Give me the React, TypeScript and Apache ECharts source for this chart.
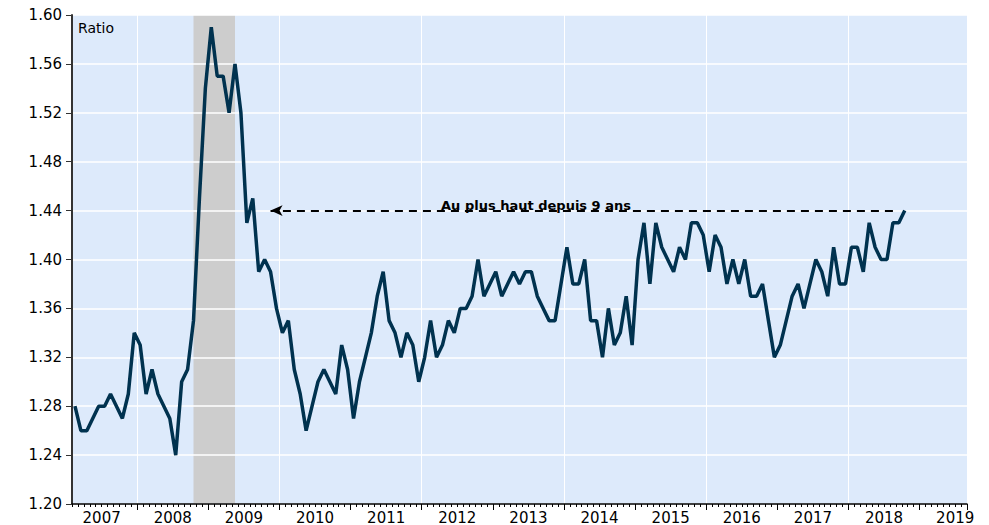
import React, { useEffect, useRef } from "react";
import * as echarts from "echarts";

// Monthly categories: Feb 2007 .. Aug 2019 (axis extent)
const FIRST_YEAR = 2007;
const FIRST_MONTH = 2;
const LAST_YEAR = 2019;
const LAST_MONTH = 8;

// Ratio values, monthly, Feb 2007 .. Oct 2018
const r2007 = [1.28, 1.26, 1.26, 1.27, 1.28, 1.28, 1.29, 1.28, 1.27, 1.29, 1.34];
const r2008 = [1.33, 1.29, 1.31, 1.29, 1.28, 1.27, 1.24, 1.3, 1.31, 1.35, 1.45, 1.54];
const r2009 = [1.59, 1.55, 1.55, 1.52, 1.56, 1.52, 1.43, 1.45, 1.39, 1.4, 1.39, 1.36];
const r2010 = [1.34, 1.35, 1.31, 1.29, 1.26, 1.28, 1.3, 1.31, 1.3, 1.29, 1.33, 1.31];
const r2011 = [1.27, 1.3, 1.32, 1.34, 1.37, 1.39, 1.35, 1.34, 1.32, 1.34, 1.33, 1.3];
const r2012 = [1.32, 1.35, 1.32, 1.33, 1.35, 1.34, 1.36, 1.36, 1.37, 1.4, 1.37, 1.38];
const r2013 = [1.39, 1.37, 1.38, 1.39, 1.38, 1.39, 1.39, 1.37, 1.36, 1.35, 1.35, 1.38];
const r2014 = [1.41, 1.38, 1.38, 1.4, 1.35, 1.35, 1.32, 1.36, 1.33, 1.34, 1.37, 1.33];
const r2015 = [1.4, 1.43, 1.38, 1.43, 1.41, 1.4, 1.39, 1.41, 1.4, 1.43, 1.43, 1.42];
const r2016 = [1.39, 1.42, 1.41, 1.38, 1.4, 1.38, 1.4, 1.37, 1.37, 1.38, 1.35, 1.32];
const r2017 = [1.33, 1.35, 1.37, 1.38, 1.36, 1.38, 1.4, 1.39, 1.37, 1.41, 1.38, 1.38];
const r2018 = [1.41, 1.41, 1.39, 1.43, 1.41, 1.4, 1.4, 1.43, 1.43, 1.44];

const ratio = [
  ...r2007, ...r2008, ...r2009, ...r2010, ...r2011, ...r2012,
  ...r2013, ...r2014, ...r2015, ...r2016, ...r2017, ...r2018,
];

// Shaded recession period
const recession = ["2008-10", "2009-05"];

// Annotation
const annotFrom = "2018-08";
const annotTo = "2009-11";
const annotLevel = 1.44;
const annotText = "Au plus haut depuis 9 ans";
const unitLabel = "Ratio";

// Y axis
const yMin = 1.2;
const yMax = 1.6;
const yStep = 0.04;

const categories: string[] = [];
for (let y = FIRST_YEAR; y <= LAST_YEAR; y++) {
  for (let m = 1; m <= 12; m++) {
    if (y === FIRST_YEAR && m < FIRST_MONTH) continue;
    if (y === LAST_YEAR && m > LAST_MONTH) break;
    categories.push(`${y}-${String(m).padStart(2, "0")}`);
  }
}

const FONT = '"DejaVu Sans", sans-serif';

export default function App() {
  const ref = useRef<HTMLDivElement>(null);
  useEffect(() => {
    if (!ref.current) return;
    const chart = echarts.init(ref.current, undefined, { renderer: "svg" });
    chart.setOption({
      animation: false,
      grid: {
        left: 72,
        right: 22,
        top: 15,
        bottom: 21,
        show: true,
        backgroundColor: "#DDEAFB",
        borderWidth: 0,
        containLabel: false,
        outerBoundsMode: "none",
        z: 0,
      },
      xAxis: [
        {
          type: "category",
          data: categories,
          boundaryGap: true,
          position: "bottom",
          z: 2,
          axisLine: { show: true, onZero: false, lineStyle: { color: "#000", width: 1.5 } },
          axisTick: { show: true, interval: 0, length: 3, lineStyle: { color: "#000", width: 1 } },
          axisLabel: {
            interval: (_i: number, v: string) => v.endsWith("-06"),
            formatter: (v: string) => v.slice(0, 4),
            margin: 6,
            color: "#000",
            fontFamily: FONT,
            fontSize: 15,
            lineHeight: 15,
            padding: [0, 0, 0, 6],
          },
          splitLine: {
            show: true,
            interval: (_i: number, v: string) =>
              v.endsWith("-01") && Number(v.slice(0, 4)) % 2 === 0,
            lineStyle: { color: "#FFFFFF", width: 1 },
          },
        },
        {
          type: "category",
          data: categories,
          boundaryGap: true,
          position: "bottom",
          z: 2,
          axisLine: { show: false, onZero: false },
          axisTick: {
            show: true,
            interval: (_i: number, v: string) => v.endsWith("-01"),
            length: 6,
            lineStyle: { color: "#000", width: 1 },
          },
          axisLabel: { show: false },
          splitLine: { show: false },
        },
      ],
      yAxis: {
        type: "value",
        min: yMin,
        max: yMax,
        interval: yStep,
        z: 2,
        axisLine: { show: true, lineStyle: { color: "#333", width: 2 } },
        axisTick: { show: true, length: 6, lineStyle: { color: "#333", width: 1 } },
        axisLabel: {
          formatter: (v: number) => v.toFixed(2),
          margin: 10,
          color: "#000",
          fontFamily: FONT,
          fontSize: 15,
        },
        splitLine: { show: true, lineStyle: { color: "#FFFFFF", width: 1.5 } },
      },
      series: [
        {
          type: "line",
          data: ratio,
          z: 1,
          silent: true,
          showSymbol: false,
          lineStyle: { opacity: 0, width: 0 },
          markArea: {
            silent: true,
            itemStyle: { color: "#CDCDCD" },
            data: [[{ xAxis: recession[0] }, { xAxis: recession[1] }]],
          },
        },
        {
          type: "line",
          data: ratio,
          z: 3,
          showSymbol: false,
          lineStyle: { color: "#00324F", width: 3.5 },
          markLine: {
            silent: true,
            symbol: ["none", "arrow"],
            symbolSize: [8, 12],
            lineStyle: { type: [8, 6], color: "#000", width: 2 },
            label: { show: false },
            emphasis: { disabled: true },
            data: [[{ coord: [annotFrom, annotLevel] }, { coord: [annotTo, annotLevel] }]],
          },
        },
      ],
      graphic: [
        {
          type: "text",
          x: 78,
          y: 28,
          z: 10,
          style: {
            text: unitLabel,
            font: `14px ${FONT}`,
            fill: "#000",
            align: "left",
            verticalAlign: "middle",
          },
        },
        {
          type: "text",
          x: 536,
          y: 205,
          z: 10,
          style: {
            text: annotText,
            font: `bold 13px ${FONT}`,
            fill: "#000",
            align: "center",
            verticalAlign: "middle",
          },
        },
      ],
    });
    return () => chart.dispose();
  }, []);
  return (
    <div
      ref={ref}
      style={{ position: "absolute", left: 0, top: 0, width: 989, height: 525, background: "#fff" }}
    />
  );
}
